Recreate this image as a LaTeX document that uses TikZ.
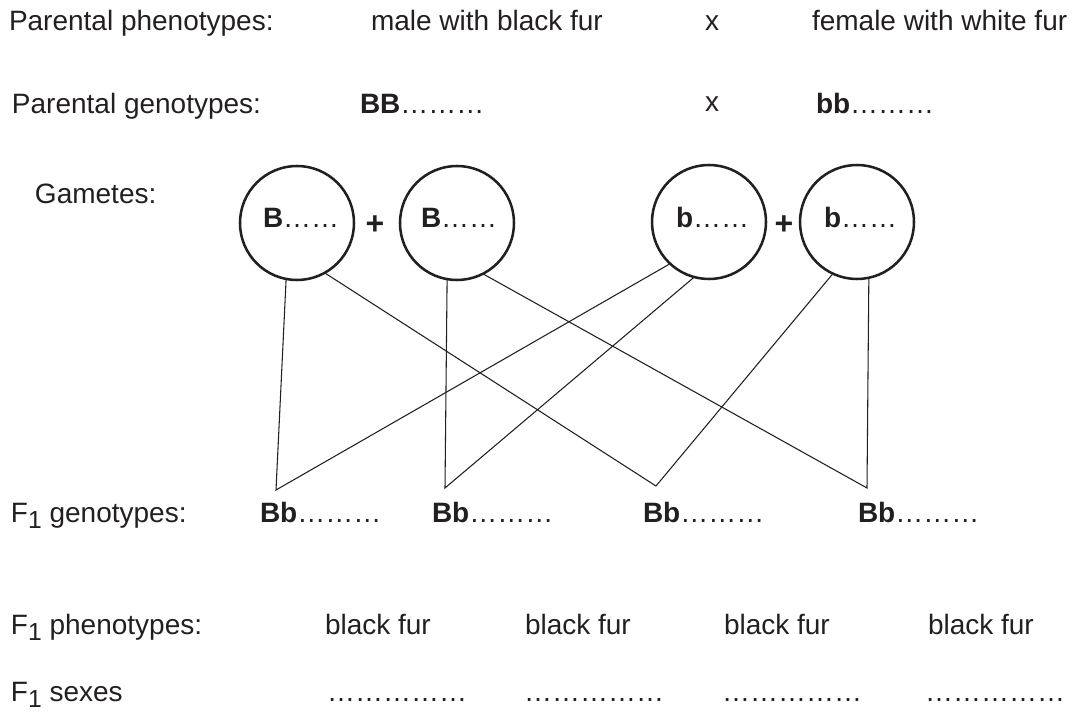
\documentclass[tikz,border=0pt]{standalone}
\usepackage{fontspec}
\setmainfont{Liberation Sans}
\definecolor{ink}{HTML}{231F20}
\newcommand\Fone{F\raisebox{-0.22em}{\fontsize{18.5}{18.5}\selectfont 1}}
\begin{document}
\begin{tikzpicture}[x=0.75pt,y=-0.75pt,
  every node/.style={font=\fontsize{21}{25}\selectfont, text=ink, inner sep=0pt, outer sep=0pt},
  lbl/.style={anchor=base west},
  mid/.style={anchor=base},
  plus/.style={anchor=base, font=\fontsize{24}{28}\selectfont\bfseries},
  gam/.style={circle, draw=ink, line width=1.9pt, minimum size=85.5pt},
  link/.style={draw=ink, line width=0.8pt}]
\useasboundingbox (0,0) rectangle (1086,713);
% row 1
\node[lbl] (pp) at (9,31) {Parental phenotypes:};
\node[lbl] (pm) at (371,31) {male with black fur};
\node[mid] (px1) at (712,31) {x};
\node[lbl] (pf) at (812,31) {female with white fur};
% row 2
\node[lbl] (pg) at (12,114) {Parental genotypes:};
\node[lbl] (gBB) at (360,114) {\textbf{BB}………};
\node[mid] (px2) at (712,112) {x};
\node[lbl] (gbb) at (816,114) {\textbf{bb}………};
% gametes
\node[lbl] (gl) at (35,204) {Gametes:};
\node[gam] (c1) at (297,223) {};
\node[gam] (c2) at (457,223) {};
\node[gam] (c3) at (709,222) {};
\node[gam] (c4) at (857,222) {};
\node[lbl] (t1) at (263,228) {\textbf{B}……};
\node[lbl] (t2) at (421,228) {\textbf{B}……};
\node[lbl] (t3) at (676,228) {\textbf{b}……};
\node[lbl] (t4) at (824,228) {\textbf{b}……};
\node[plus] (pl1) at (375,234) {+};
\node[plus] (pl2) at (784,234) {+};
% apexes
\coordinate (g1) at (276,490);
\coordinate (g2) at (445,488);
\coordinate (g3) at (656,486);
\coordinate (g4) at (867,488);
\draw[link] (c1.259) -- (g1) -- (c3.227);
\draw[link] (c2.260) -- (g2) -- (c3.255);
\draw[link] (c1.299) -- (g3) -- (c4.245);
\draw[link] (c2.297) -- (g4) -- (c4.282);
% F1 genotypes
\node[lbl] (fg) at (11,522) {\Fone\ genotypes:};
\node[lbl] (b1) at (260,522) {\textbf{Bb}………};
\node[lbl] (b2) at (432,522) {\textbf{Bb}………};
\node[lbl] (b3) at (643,522) {\textbf{Bb}………};
\node[lbl] (b4) at (858,522) {\textbf{Bb}………};
% F1 phenotypes
\node[lbl] (fp) at (11,634) {\Fone\ phenotypes:};
\node[lbl] (f1) at (325,634) {black fur};
\node[lbl] (f2) at (525,634) {black fur};
\node[lbl] (f3) at (724,634) {black fur};
\node[lbl] (f4) at (928,634) {black fur};
% F1 sexes
\node[lbl] (fs) at (11,701) {\Fone\ sexes};
\node[lbl] (s1) at (327,701) {……………};
\node[lbl] (s2) at (524,701) {……………};
\node[lbl] (s3) at (722,701) {……………};
\node[lbl] (s4) at (925,701) {……………};
\end{tikzpicture}
\end{document}
